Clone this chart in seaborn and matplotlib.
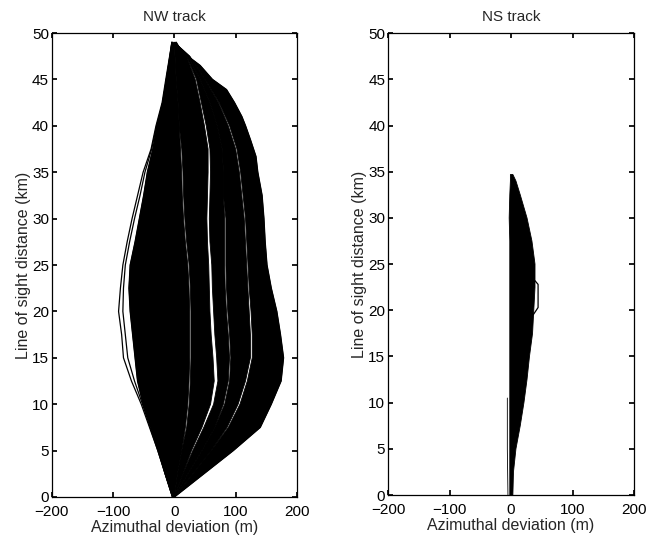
import numpy as np
import pandas as pd
import matplotlib
matplotlib.use("Agg")
import matplotlib.pyplot as plt
import seaborn as sns

# ---- NW track: range samples (km) and bundle edges (m) ----
nw_dist = [0, 2.5, 5, 7.5, 10, 12.5, 15, 17.5, 20, 22.5, 25, 27.5, 30, 32.5,
           35, 37.5, 40, 42.5, 45, 47.5, 49]
nw_left = [-3, -15, -26, -38, -51, -60, -64, -68, -72, -74, -72, -64, -57, -50,
           -44, -35, -28, -19, -13, -7, -4]
nw_right_dist = [0, 2.5, 5, 7.5, 10, 12.5, 15, 17.5, 20, 22.5, 25, 27.5, 30,
                 32.5, 35, 36.7, 38.5, 40, 41, 42.5, 43.9, 45, 46.5, 47.5,
                 48.2, 49]
nw_right = [0, 48, 96, 140, 158, 174, 178, 173, 167, 158, 151, 148, 146, 143,
            136, 133, 124, 116, 110, 98, 85, 62, 42, 22, 10, 3]

# empty lanes inside the bundle (no tracks pass through them), west to east
nw_lane3_lo = [0, 5, 12, 18, 22, 24, 25, 25, 25, 24, 22, 18, 15, 13, 12, 10,
               8, 6, 3, 1, 0]
nw_lane3_hi = [0, 5, 12, 20, 24, 26, 27, 27, 27, 26, 24, 20, 17, 15, 14, 12,
               8, 6, 3, 1, 0]
nw_lane1_lo = [0, 14, 28, 45, 59, 65, 63, 60, 58, 57, 56, 54, 53, 54, 55, 55,
               49, 42, 34, 20, 0]
nw_lane1_hi = [0, 14, 30, 48, 64, 71, 69, 66, 64, 62, 61, 58, 57, 58, 59, 58,
               52, 44, 36, 20, 0]
nw_lane4_lo = [0, 22, 45, 66, 80, 88, 90, 88, 85, 83, 82, 82, 82, 80, 80, 78,
               70, 58, 42, 22, 0]
nw_lane4_hi = [0, 22, 45, 66, 82, 90, 92, 90, 87, 85, 84, 84, 84, 80, 80, 78,
               70, 58, 42, 22, 0]
nw_lane2_lo = [0, 30, 60, 86, 104, 116, 124, 124, 122, 120, 118, 116, 114, 110,
               106, 100, 88, 72, 50, 25, 0]
nw_lane2_hi = [0, 30, 60, 88, 107, 119, 127, 127, 125, 122, 120, 118, 116, 112,
               108, 102, 90, 73, 50, 25, 0]

# outlying individual NW tracks on the western side
nw_outer_dist = [0, 5, 10, 12.5, 15, 17.5, 20, 22.5, 25, 27.5, 30, 32.5, 35,
                 37.5, 40, 42.5, 45, 49]
nw_outer1 = [-3, -27, -54, -70, -83, -86, -91, -88, -84, -77, -69, -60, -51,
             -38, -30, -20, -14, -4]
nw_outer2 = [-3, -27, -52, -65, -76, -80, -84, -83, -80, -73, -65, -56, -48,
             -37, -29, -19, -13, -4]

# ---- NS track ----
ns_dist = [0, 2.5, 5, 7.5, 10, 12.5, 15, 17.5, 20, 22.5, 25, 27.5, 30, 32.5,
           34, 34.7]
ns_left = [-2, -2, -2, -2, -2, -2, -2, -2, -2, -2, -2, -2, -3, -2, -1, -1]
ns_right = [3, 4, 8, 15, 21, 26, 30, 35, 37, 39, 39, 34, 26, 15, 8, 3]
ns_loop_dist = [19.5, 20.3, 22.8, 23.2]
ns_loop_dev = [36, 44, 44, 39]
ns_stray_dist = [0, 5, 10.5]
ns_stray_dev = [-5, -6, -6]

sns.set_theme(style="ticks")
plt.rcParams["font.family"] = ["Liberation Sans", "DejaVu Sans"]
plt.rcParams.update({
    "xtick.direction": "in", "ytick.direction": "in",
    "xtick.top": True, "ytick.right": True,
    "xtick.major.size": 3.5, "ytick.major.size": 3.5,
    "axes.edgecolor": "black", "axes.linewidth": 0.9,
    "xtick.color": "black", "ytick.color": "black",
})

fig = plt.figure(figsize=(6.59, 5.37), dpi=100)
ax1 = fig.add_axes([0.0785, 0.0745, 0.3722, 0.864])
ax2 = fig.add_axes([0.5888, 0.0782, 0.3733, 0.860])


def fill_band(ax, x_a, d_a, x_b, d_b):
    """Fill the region between two edges of a track bundle."""
    xs = np.r_[x_a, np.asarray(x_b)[::-1]]
    ds = np.r_[d_a, np.asarray(d_b)[::-1]]
    ax.fill(xs, ds, color="black", lw=0.6)


# dense bundle of NW tracks, split by its empty lanes
edges = [(nw_left, nw_lane3_lo), (nw_lane3_hi, nw_lane1_lo),
         (nw_lane1_hi, nw_lane4_lo), (nw_lane4_hi, nw_lane2_lo)]
for a, b in edges:
    fill_band(ax1, a, nw_dist, b, nw_dist)
fill_band(ax1, nw_lane2_hi, nw_dist, nw_right, nw_right_dist)

sns.lineplot(x=nw_left, y=nw_dist, orient="y", sort=False, estimator=None,
             color="black", lw=1.0, ax=ax1)
sns.lineplot(x=nw_right, y=nw_right_dist, orient="y", sort=False,
             estimator=None, color="black", lw=1.0, ax=ax1)
for track in [nw_outer1, nw_outer2]:
    sns.lineplot(x=track, y=nw_outer_dist, orient="y", sort=False,
                 estimator=None, color="black", lw=0.9, ax=ax1)

fill_band(ax2, ns_left, ns_dist, ns_right, ns_dist)
sns.lineplot(x=ns_loop_dev, y=ns_loop_dist, orient="y", sort=False,
             estimator=None, color="black", lw=0.9, ax=ax2)
sns.lineplot(x=ns_stray_dev, y=ns_stray_dist, orient="y", sort=False,
             estimator=None, color="black", lw=0.6, ax=ax2)

for ax, title in [(ax1, "NW track"), (ax2, "NS track")]:
    ax.set_xlim(-200, 200)
    ax.set_ylim(0, 50)
    ax.set_xticks([-200, -100, 0, 100, 200])
    ax.set_yticks(np.arange(0, 51, 5))
    ax.set_xticklabels(["\u2212200", "\u2212100", "0", "100", "200"])
    ax.tick_params(axis="y", labelsize=11, pad=2)
    ax.tick_params(axis="x", labelsize=11, pad=6)
    ax.set_title(title, fontsize=11, pad=9)
    ax.set_xlabel("Azimuthal deviation (m)", fontsize=11.5, labelpad=0.5)
    ax.set_ylabel("Line of sight distance (km)", fontsize=11.5, labelpad=1)
    for s in ax.spines.values():
        s.set_visible(True)

fig.savefig("out.png", dpi=100)
